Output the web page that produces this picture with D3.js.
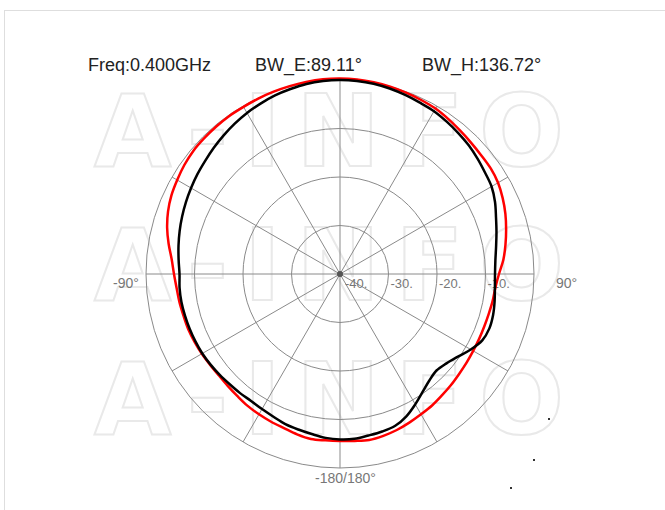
<!DOCTYPE html>
<html>
<head>
<meta charset="utf-8">
<script src="https://cdn.jsdelivr.net/npm/d3@7"></script>
<style>
  html, body { margin: 0; padding: 0; background: #fff; }
  svg { display: block; font-family: "Liberation Sans", Arial, sans-serif; }
</style>
</head>
<body>
<svg id="chart" width="665" height="510"></svg>
<script>
// ---- data ----
const angles = [-180,-175,-170,-165,-160,-155,-150,-145,-140,-135,-130,-125,-120,-115,-110,-105,-100,-95,-90,-85,-80,-75,-70,-65,-60,-55,-50,-45,-40,-35,-30,-25,-20,-15,-10,-5,0,5,10,15,20,25,30,35,40,45,50,55,60,65,70,75,80,85,90,95,100,105,110,115,120,125,130,135,140,145,150,155,160,165,170,175,180];
const gainE = [-5.88,-6.08,-6.49,-6.80,-7.07,-7.53,-7.84,-8.04,-7.94,-7.84,-7.63,-7.42,-7.22,-7.11,-7.01,-6.91,-6.80,-6.80,-6.91,-6.60,-6.19,-5.77,-5.36,-4.95,-4.54,-4.12,-3.71,-3.20,-2.68,-2.16,-1.65,-1.24,-0.82,-0.52,-0.21,-0.06,0,-0.04,-0.16,-0.41,-0.72,-1.03,-1.24,-1.65,-2.06,-2.47,-2.99,-3.51,-3.92,-4.74,-5.77,-6.60,-7.32,-7.84,-8.04,-7.94,-7.63,-7.32,-7.22,-7.63,-8.87,-10.31,-11.34,-11.86,-11.34,-10.31,-8.97,-7.63,-6.70,-6.39,-6.19,-5.88,-5.88];
const gainH = [-5.57,-5.57,-5.46,-5.77,-6.19,-6.39,-6.60,-6.80,-7.11,-7.32,-7.42,-7.32,-7.11,-6.91,-6.70,-6.60,-6.39,-6.19,-5.77,-5.16,-4.12,-3.10,-2.27,-1.65,-1.24,-0.82,-0.52,-0.41,-0.31,-0.21,-0.21,-0.10,0,0.10,0.21,0.31,0.31,0.27,0.16,0,-0.21,-0.41,-0.62,-1.03,-1.44,-1.75,-1.96,-2.06,-2.37,-2.99,-3.71,-4.54,-5.36,-6.19,-7.22,-7.84,-8.04,-8.25,-8.35,-8.35,-8.29,-8.14,-7.94,-7.63,-7.32,-6.91,-6.60,-6.19,-5.77,-5.46,-5.26,-5.46,-5.57];
const ringLevels = [-40, -30, -20, -10];
const ringLabels = ["-40.", "-30.", "-20.", "-10."];
const spokeAngles = [0, 30, 60, 90, 120, 150, 180, 210, 240, 270, 300, 330];
const titles = ["Freq:0.400GHz", "BW_E:89.11°", "BW_H:136.72°"];
const angleLabels = ["-90°", "90°", "-180/180°"];
const watermark = "A-INFO";

// ---- layout ----
const svg = d3.select("#chart");
const cx = 340, cy = 274, R = 194;
const r = d3.scaleLinear().domain([-40, 0]).range([0, R]);
const toRad = d => d * Math.PI / 180;

// frame
svg.append("rect").attr("x", 4.5).attr("y", 10.5).attr("width", 700).attr("height", 600)
  .attr("fill", "none").attr("stroke", "#dedede").attr("stroke-width", 1);

// watermark
[166, 300, 434].forEach(y => {
  svg.append("text").attr("x", 94).attr("y", y)
    .attr("textLength", 470).attr("lengthAdjust", "spacing")
    .attr("font-family", "'DejaVu Sans', sans-serif")
    .attr("font-size", 100).attr("font-weight", "bold")
    .attr("fill", "none").attr("stroke", "#e9e9e9").attr("stroke-width", 2)
    .text(watermark);
});

const g = svg.append("g").attr("transform", `translate(${cx},${cy})`);

// rings
g.selectAll("circle.ring").data(ringLevels.slice(1).concat([0])).enter()
  .append("circle").attr("class", "ring")
  .attr("r", d => r(d)).attr("fill", "none")
  .attr("stroke", "#8a8a8a").attr("stroke-width", 1);

// spokes
g.selectAll("line.spoke").data(spokeAngles).enter().append("line")
  .attr("x1", 0).attr("y1", 0)
  .attr("x2", d => R * Math.sin(toRad(d)))
  .attr("y2", d => -R * Math.cos(toRad(d)))
  .attr("stroke", "#8a8a8a").attr("stroke-width", 1);

g.append("circle").attr("r", 3).attr("fill", "#555");

// ring labels
g.selectAll("text.rl").data(ringLevels).enter().append("text")
  .attr("x", (d, i) => r(d) + (i === 0 ? 5 : 2))
  .attr("y", 14)
  .attr("font-size", 13).attr("fill", "#777")
  .text((d, i) => ringLabels[i]);

// angle labels
svg.append("text").attr("x", 113).attr("y", 288).attr("font-size", 14).attr("fill", "#777").text(angleLabels[0]);
svg.append("text").attr("x", 556).attr("y", 288).attr("font-size", 14).attr("fill", "#777").text(angleLabels[1]);
svg.append("text").attr("x", 315).attr("y", 483).attr("font-size", 14).attr("fill", "#777").text(angleLabels[2]);

// titles
const titleX = [88, 255, 422];
svg.selectAll("text.title").data(titles).enter().append("text")
  .attr("x", (d, i) => titleX[i]).attr("y", 71)
  .attr("font-size", 18).attr("fill", "#222").text(d => d);

// curves
const line = d3.lineRadial()
  .angle(d => toRad(d[0]))
  .radius(d => r(d[1]))
  .curve(d3.curveCatmullRomClosed);

const ptsH = angles.slice(0, -1).map((a, i) => [a, gainH[i]]);
const ptsE = angles.slice(0, -1).map((a, i) => [a, gainE[i]]);

g.append("path").attr("d", line(ptsH)).attr("fill", "none")
  .attr("stroke", "#ff0000").attr("stroke-width", 2.5);
g.append("path").attr("d", line(ptsE)).attr("fill", "none")
  .attr("stroke", "#000").attr("stroke-width", 2.5);

// stray dots
[[549, 419], [534, 460], [511, 488]].forEach(p => {
  svg.append("rect").attr("x", p[0] - 1).attr("y", p[1] - 1).attr("width", 2).attr("height", 2).attr("fill", "#333");
});
</script>
</body>
</html>
